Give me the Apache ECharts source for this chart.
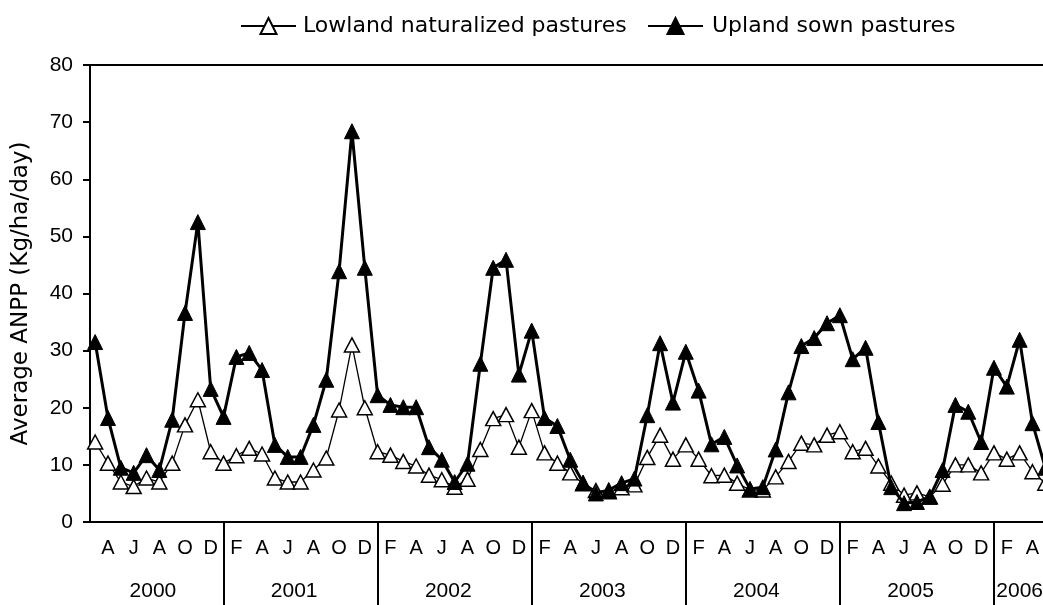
<!DOCTYPE html>
<html>
<head>
<meta charset="utf-8">
<title>Average ANPP</title>
<script src="https://cdn.jsdelivr.net/npm/echarts@6/dist/echarts.min.js"></script>
<style>
  html, body { margin: 0; padding: 0; background: #fff; overflow: hidden; width: 1043px; height: 605px; }
  /* the canvas is a little wider than the page: the last months run off the right edge */
  #chart { width: 1071px; height: 605px; }
</style>
</head>
<body>
<div id="chart"></div>
<script>
// Monthly average ANPP (Kg/ha/day), March 2000 to May 2006.
const years = ['2000', '2001', '2002', '2003', '2004', '2005', '2006'];
const monthInitials = ['J', 'F', 'M', 'A', 'M', 'J', 'J', 'A', 'S', 'O', 'N', 'D'];
const firstMonth = 2; // months counted from January 2000 (= 0)

const lowland = [
  14.0, 10.3, 7.0, 6.2, 7.7, 7.0, 10.3, 17.0, 21.4, 12.3,
  10.3, 11.6, 12.9, 11.9, 7.7, 7.0, 7.0, 9.1, 11.2, 19.6, 31.0, 20.0,
  12.3, 11.7, 10.6, 9.8, 8.2, 7.4, 6.1, 7.5, 12.7, 18.1, 18.8, 13.1,
  19.5, 12.1, 10.3, 8.6, 6.7, 5.5, 5.3, 6.0, 6.5, 11.3, 15.2, 11.0,
  13.5, 11.0, 8.1, 8.2, 6.8, 5.6, 5.6, 7.9, 10.6, 13.8, 13.5, 15.2,
  15.8, 12.3, 12.9, 9.8, 6.8, 4.7, 5.1, 4.4, 6.6, 10.0, 10.0, 8.6,
  12.1, 11.0, 12.1, 8.8, 6.8
];

const upland = [
  31.5, 18.2, 9.5, 8.6, 11.7, 9.1, 17.9, 36.6, 52.5, 23.3,
  18.4, 28.9, 29.6, 26.6, 13.5, 11.4, 11.4, 17.0, 24.9, 43.9, 68.4, 44.5,
  22.2, 20.5, 20.1, 20.1, 13.1, 10.9, 7.0, 10.2, 27.7, 44.5, 45.9, 25.8,
  33.5, 18.2, 16.8, 10.9, 6.9, 5.0, 5.6, 6.8, 7.6, 18.7, 31.3, 20.9,
  29.8, 23.0, 13.6, 14.9, 9.9, 5.8, 6.1, 12.7, 22.7, 30.8, 32.2, 34.8,
  36.2, 28.5, 30.5, 17.5, 6.1, 3.3, 3.5, 4.4, 9.1, 20.5, 19.3, 14.0,
  27.0, 23.7, 31.9, 17.3, 9.5
];

const seriesNames = ['Lowland naturalized pastures', 'Upland sown pastures'];

const lastMonth = firstMonth + lowland.length - 1;

// month initials every second month (Apr, Jun, ...), year breaks at each January
const monthTicks = [];
for (let m = firstMonth + 1; m <= lastMonth; m += 2) monthTicks.push(m);
const yearBreaks = [];
for (let m = 12; m <= lastMonth; m += 12) yearBreaks.push(m);
const yearCenters = years.map((y, k) => {
  const a = Math.max(12 * k, firstMonth);
  const b = Math.min(12 * k + 11, lastMonth);
  return (a + b) / 2;
});

const toPoints = arr => arr.map((v, i) => [firstMonth + i, v]);

const labelFont = 'Liberation Sans, Arial, sans-serif';
const wideFont = 'DejaVu Sans, sans-serif';

const chart = echarts.init(document.getElementById('chart'));
chart.setOption({
  animation: false,
  backgroundColor: '#fff',
  legend: [
    {
      data: [seriesNames[0]], left: 235, top: 10,
      itemWidth: 55, itemHeight: 20, itemGap: 0,
      textStyle: { fontFamily: wideFont, fontSize: 22, color: '#000', padding: [0, 0, 0, 2] }
    },
    {
      data: [seriesNames[1]], left: 642, top: 10,
      itemWidth: 55, itemHeight: 20, itemGap: 0,
      textStyle: { fontFamily: wideFont, fontSize: 22, color: '#000', padding: [0, 0, 0, 4] }
    }
  ],
  grid: {
    left: 90, top: 65, bottom: 83, right: 0,
    show: true, borderColor: '#000', borderWidth: 2, backgroundColor: 'transparent'
  },
  xAxis: [
    {
      type: 'value', position: 'bottom',
      min: 1.6, max: 78,
      axisLine: { show: true, onZero: false, lineStyle: { color: '#000', width: 2 } },
      axisTick: {
        show: true, inside: false, length: 83,
        customValues: yearBreaks,
        lineStyle: { color: '#000', width: 2 }
      },
      axisLabel: {
        customValues: monthTicks,
        formatter: v => monthInitials[Math.round(v) % 12],
        margin: 16, fontFamily: labelFont, fontSize: 20, lineHeight: 20, color: '#000'
      },
      splitLine: { show: false }
    },
    {
      type: 'value', position: 'bottom',
      min: 1.6, max: 78,
      axisLine: { show: false },
      axisTick: { show: false },
      axisLabel: {
        customValues: yearCenters,
        formatter: v => years[yearCenters.indexOf(v)],
        margin: 59, fontFamily: labelFont, fontSize: 21, lineHeight: 21, color: '#000'
      },
      splitLine: { show: false }
    }
  ],
  yAxis: {
    type: 'value', min: 0, max: 80, interval: 10,
    name: 'Average ANPP (Kg/ha/day)',
    nameLocation: 'middle', nameRotate: 90, nameGap: 57,
    nameTextStyle: { fontFamily: wideFont, fontSize: 23, color: '#000' },
    axisLine: { show: true, lineStyle: { color: '#000', width: 2 } },
    axisTick: { show: true, inside: false, length: 7, lineStyle: { color: '#000', width: 2 } },
    axisLabel: { margin: 17, fontFamily: labelFont, fontSize: 21, color: '#000' },
    splitLine: { show: false }
  },
  series: [
    {
      name: seriesNames[0], type: 'line', xAxisIndex: 0,
      data: toPoints(lowland),
      symbol: 'triangle', symbolSize: [15, 14],
      lineStyle: { color: '#000', width: 1.3 },
      itemStyle: { color: '#fff', borderColor: '#000', borderWidth: 1.5 },
      z: 2
    },
    {
      name: seriesNames[1], type: 'line', xAxisIndex: 0,
      data: toPoints(upland),
      symbol: 'triangle', symbolSize: [15, 15],
      lineStyle: { color: '#000', width: 3 },
      itemStyle: { color: '#000', borderColor: '#000', borderWidth: 1 },
      z: 3
    }
  ]
});
</script>
</body>
</html>
